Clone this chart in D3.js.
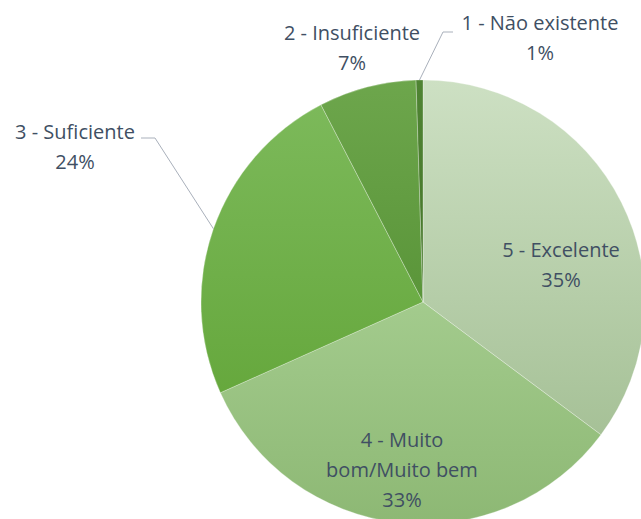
<!DOCTYPE html>
<html lang="pt">
<head>
<meta charset="utf-8">
<title>Avaliação</title>
<script src="https://cdn.jsdelivr.net/npm/d3@7"></script>
<style>
  body { margin: 0; background: #fff; }
  svg { display: block; font-family: "Open Sans", sans-serif; }
</style>
</head>
<body>
<svg width="641" height="519"></svg>
<script>
// data
var categories = ["5 - Excelente", "4 - Muito bom/Muito bem", "3 - Suficiente", "2 - Insuficiente", "1 - Não existente"];
var values = [35.2, 33.1, 24.1, 7.1, 0.5];
var colorsTop = ["#cde0c3", "#a3cb8d", "#7cb95a", "#6da64c", "#4f8433"];
var colorsBottom = ["#a6c197", "#8db874", "#66a83d", "#5a9539", "#457529"];

var svg = d3.select("svg"),
    cx = 423, cy = 302, radius = 222;

// label layout (x centre, baseline of first line, text lines, leader points)
var labelPos = [
  { x: 561, y: 257, lines: ["5 - Excelente"] },
  { x: 402, y: 447, lines: ["4 - Muito", "bom/Muito bem"] },
  { x: 75, y: 139, lines: ["3 - Suficiente"], leader: [[141, 138], [155, 138]] },
  { x: 352, y: 40, lines: ["2 - Insuficiente"] },
  { x: 540, y: 30, lines: ["1 - Não existente"], leader: [[453, 32], [443, 32]] }
];

var pie = d3.pie().sort(null).value(function(d) { return d; });
var arc = d3.arc().innerRadius(0).outerRadius(radius);
var arcs = pie(values);

var defs = svg.append("defs");
arcs.forEach(function(d, i) {
  var gr = defs.append("linearGradient")
      .attr("id", "grad" + i)
      .attr("x1", 0).attr("y1", 0).attr("x2", 0).attr("y2", 1);
  gr.append("stop").attr("offset", "0%").attr("stop-color", colorsTop[i]);
  gr.append("stop").attr("offset", "100%").attr("stop-color", colorsBottom[i]);
});

var g = svg.append("g").attr("transform", "translate(" + cx + "," + cy + ")");

g.selectAll("path.slice")
  .data(arcs)
  .enter().append("path")
    .attr("class", "slice")
    .attr("d", arc)
    .attr("fill", function(d, i) { return "url(#grad" + i + ")"; })
    .attr("stroke", "rgba(255,255,255,0.35)")
    .attr("stroke-width", 0.8);

// leader lines
arcs.forEach(function(d, i) {
  var p = labelPos[i];
  if (!p.leader) return;
  var mid = (d.startAngle + d.endAngle) / 2;
  var ex = cx + radius * Math.sin(mid),
      ey = cy - radius * Math.cos(mid);
  svg.append("path")
    .attr("d", d3.line()(p.leader.concat([[ex, ey]])))
    .attr("fill", "none")
    .attr("stroke", "#a9b0bb")
    .attr("stroke-width", 1);
});

// labels
var fmt = function(v) { return Math.round(v) + "%"; };
arcs.forEach(function(d, i) {
  var p = labelPos[i];
  var t = svg.append("text")
    .attr("text-anchor", "middle")
    .attr("fill", "#404f63")
    .style("font-size", "20px");
  p.lines.concat([fmt(d.value)]).forEach(function(line, j) {
    t.append("tspan")
      .attr("x", p.x)
      .attr("y", p.y + j * 30)
      .text(line);
  });
});
</script>
</body>
</html>
